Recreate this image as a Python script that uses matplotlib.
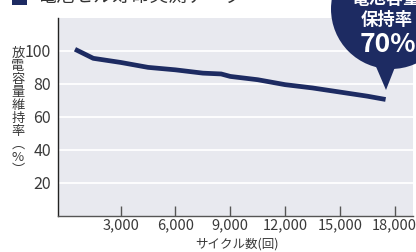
import matplotlib
matplotlib.use('Agg')
import matplotlib.pyplot as plt
from matplotlib.patches import Circle, Polygon, Rectangle

plt.rcParams['font.family'] = ['Noto Sans CJK JP', 'DejaVu Sans']

# data
cycles = [500, 1500, 3000, 4500, 6000, 7500, 8500, 9000, 10500, 12000, 13500, 15000, 16500, 17500]
retention = [101, 95.5, 93, 90, 88.5, 86.5, 86, 84.5, 82.5, 79.5, 77.5, 75, 72.5, 70.5]
x_ticks = [3000, 6000, 9000, 12000, 15000, 18000]
x_tick_labels = ['3,000', '6,000', '9,000', '12,000', '15,000', '18,000']
y_ticks = [20, 40, 60, 80, 100]

navy = '#1d2b62'
text_col = '#3a3a3a'

W, H = 416, 252
fig = plt.figure(figsize=(W / 100, H / 100), dpi=100)
ax = fig.add_axes([58 / W, 1 - 215.5 / H, (413 - 58) / W, (215.5 - 18) / H])
ax.set_facecolor('#e8e9ef')

ax.plot(cycles, retention, color=navy, lw=3.4, solid_capstyle='butt', zorder=3)

ax.set_xlim(-430, 19000)
ax.set_ylim(0, 120)
ax.set_yticks(y_ticks)
ax.set_xticks(x_ticks)
ax.set_xticklabels(x_tick_labels)
for y in y_ticks:
    ax.axhline(y, color='white', lw=1.3, zorder=1)

ax.tick_params(axis='x', direction='in', length=7, width=1, color='#555555',
               labelsize=10.5, labelcolor=text_col, pad=2)
ax.tick_params(axis='y', length=0, labelsize=11.5, labelcolor=text_col, pad=5)
for s in ['top', 'right']:
    ax.spines[s].set_visible(False)
ax.spines['left'].set_color('#222222')
ax.spines['bottom'].set_color('#555555')
ax.spines['left'].set_linewidth(1)
ax.spines['bottom'].set_linewidth(1)

# x label placed directly so it stays inside the figure
fig.text(237 / W, 1 - 244 / H, 'サイクル数(回)', fontsize=9, color=text_col,
         ha='center', va='center')

# vertical y label, characters stacked upright
ylab = '\n'.join(['放', '電', '容', '量', '維', '持', '率', '︵', '%', '︶'])
fig.text(18 / W, 1 - 112 / H, ylab, fontsize=9.5, color=text_col,
         ha='center', va='center', linespacing=1.0)

# title, cut off at the top edge
fig.add_artist(Rectangle((12, H - 5), 15, 20, transform=None,
                         facecolor=navy, edgecolor='none'))
fig.text(38 / W, 1 + 4 / H, '電池セル寿命実測データ', fontsize=13.5,
         color='#333333', ha='left', va='center')

# bubble callout
fig.add_artist(Circle((391, H - 9), 60, transform=None,
                      facecolor=navy, edgecolor='none', zorder=5))
fig.add_artist(Polygon([(374, H - 62), (397, H - 62), (386, H - 90)], closed=True,
                       transform=None, facecolor=navy, edgecolor='none', zorder=5))
fig.text(387 / W, 1 + 1 / H, '電池容量', fontsize=12.5, color='white',
         ha='center', va='center', fontweight='bold', zorder=6)
fig.text(387 / W, 1 - 20 / H, '保持率', fontsize=12.5, color='white',
         ha='center', va='center', fontweight='bold', zorder=6)
fig.text(388 / W, 1 - 45 / H, '70%', fontsize=19, color='white',
         ha='center', va='center', fontweight='bold', zorder=6)

fig.savefig('out.png', dpi=100)
